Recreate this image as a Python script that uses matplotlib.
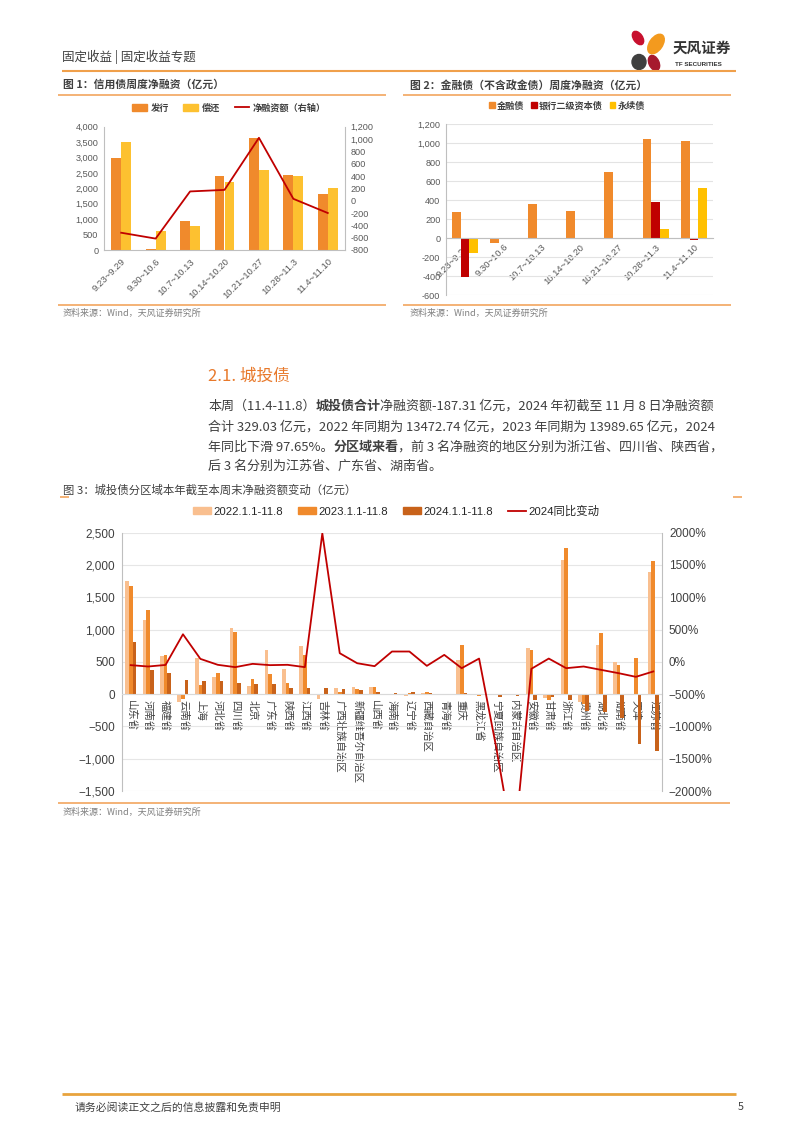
import matplotlib
matplotlib.use('Agg')
import matplotlib.pyplot as plt
from matplotlib.patches import Patch, Ellipse
from matplotlib.lines import Line2D
from matplotlib.ticker import FuncFormatter
import numpy as np

plt.rcParams['font.family'] = ['Liberation Sans', 'Noto Sans CJK SC']
CJK = ['Noto Sans CJK SC', 'Liberation Sans']

W, H = 802, 1133

# ---------------- data ----------------
weeks = ['9.23~9.29', '9.30~10.6', '10.7~10.13', '10.14~10.20',
         '10.21~10.27', '10.28~11.3', '11.4~11.10']
issue = [3000, 30, 930, 2390, 3620, 2430, 1810]
repay = [3510, 630, 780, 2220, 2600, 2400, 2010]
net_fin = [-520, -615, 150, 175, 1020, 30, -200]

fin_bond = [280, -45, 365, 285, 700, 1050, 1020]
tier2 = [-405, 0, 0, 0, 8, 385, -20]
perp = [-160, 0, 0, 0, 0, 95, 525]

regions = ['山东省', '河南省', '福建省', '云南省', '上海', '河北省', '四川省', '北京',
           '广东省', '陕西省', '江西省', '吉林省', '广西壮族自治区', '新疆维吾尔自治区',
           '山西省', '海南省', '辽宁省', '西藏自治区', '青海省', '重庆', '黑龙江省',
           '宁夏回族自治区', '内蒙古自治区', '安徽省', '甘肃省', '浙江省', '贵州省',
           '湖北省', '湖南省', '天津', '江苏省']
v2022 = [1750, 1155, 588, -120, 566, 268, 1025, 120, 685, 386, 742, -80, 93, 110,
         108, 5, -35, 20, -15, 536, -10, 8, -15, 711, -65, 2072, -120, 762, 493, 0, 1896]
v2023 = [1680, 1300, 603, -70, 140, 330, 958, 237, 310, 175, 605, -5, 33, 78,
         118, 8, 10, 26, 3, 762, -30, 4, 1, 690, -90, 2258, -155, 943, 457, 559, 2066]
v2024 = [805, 372, 332, 225, 210, 196, 166, 155, 150, 93, 95, 90, 77, 60,
         36, 21, 26, 10, 6, 15, -15, -50, -28, -93, -45, -95, -268, -273, -376, -768, -881]
yoy = [-51, -72, -48, 427, 46, -46, -82, -31, -51, -46, -82, 1990, 134, -21,
       -67, 160, 160, -62, 108, -98, 51, -1350, -2900, -108, 51, -98, -72, -124, -175, -232, -149]

# ---------------- colours ----------------
C_ORANGE = '#F08A2C'
C_YELLOW = '#FDC130'
C_RED = '#C00000'
C_LIGHT = '#F9BF8F'
C_DARK = '#C8621A'
C_LINE = '#F2A55F'
C_AX = '#BFBFBF'
C_TICK = '#595959'

fig = plt.figure(figsize=(W / 100, H / 100), dpi=100)
bg = fig.add_axes([0, 0, 1, 1], zorder=0)
bg.set_xlim(0, W)
bg.set_ylim(H, 0)
bg.axis('off')


def rect(x0, y0, x1, y1):
    return [x0 / W, 1 - y1 / H, (x1 - x0) / W, (y1 - y0) / H]


def hline(x0, x1, y, color=C_LINE, lw=1.2):
    bg.plot([x0, x1], [y, y], color=color, lw=lw, solid_capstyle='butt')


def txt(x, y, s, size, color='#333333', weight='normal', ha='left', va='center', family=CJK):
    return bg.text(x, y, s, fontsize=size, color=color, fontweight=weight,
                   ha=ha, va=va, family=family)


# ---------------- header / footer ----------------
txt(62, 57, '固定收益 | 固定收益专题', 9, '#404040')
hline(62, 736, 71, '#F0A04B', 1.5)
bg.add_patch(Ellipse((638, 38), 9, 15, angle=-35, color='#C8102E'))
bg.add_patch(Ellipse((656, 44), 13, 22, angle=35, color='#F39A1E'))
bg.add_patch(Ellipse((639, 62), 14, 15, angle=0, color='#3F3F3F'))
bg.add_patch(Ellipse((654, 63), 10, 16, angle=-25, color='#A6192E'))
txt(673, 48, '天风证券', 10.5, '#333333', 'bold')
txt(675, 64, 'TF SECURITIES', 4.5, '#333333', 'bold', family=['Liberation Sans'])

hline(62, 736, 1094, '#E8A33D', 2)
txt(75, 1107, '请务必阅读正文之后的信息披露和免责申明', 7.8, '#404040')
txt(744, 1107, '5', 7.8, '#404040', ha='right')

# ---------------- chart titles / sources ----------------
txt(63, 85, '图 1：信用债周度净融资（亿元）', 7.8, '#404040', 'bold')
hline(58, 386, 95)
txt(410, 85, '图 2：金融债（不含政金债）周度净融资（亿元）', 7.8, '#404040', 'bold')
hline(403, 731, 95)
hline(58, 386, 305)
txt(63, 313, '资料来源：Wind，天风证券研究所', 6.5, '#808080')
hline(403, 731, 305)
txt(410, 313, '资料来源：Wind，天风证券研究所', 6.5, '#808080')

# ---------------- section text ----------------
txt(208, 376, '2.1. 城投债', 12, '#E8792B')

para = [
    [('本周（11.4-11.8）', 'normal'), ('城投债合计', 'bold'),
     ('净融资额-187.31 亿元，2024 年初截至 11 月 8 日净融资额', 'normal')],
    [('合计 329.03 亿元，2022 年同期为 13472.74 亿元，2023 年同期为 13989.65 亿元，2024', 'normal')],
    [('年同比下滑 97.65%。', 'normal'), ('分区域来看', 'bold'),
     ('，前 3 名净融资的地区分别为浙江省、四川省、陕西省，', 'normal')],
    [('后 3 名分别为江苏省、广东省、湖南省。', 'normal')],
]
para_y = [406, 427, 447, 466]
renderer = fig.canvas.get_renderer()
for segs, y in zip(para, para_y):
    x = 208
    for s, wt in segs:
        t = txt(x, y, s, 9.4, '#404040', wt)
        x += t.get_window_extent(renderer).width

txt(63, 490, '图 3：城投债分区域本年截至本周末净融资额变动（亿元）', 8.2, '#404040')
hline(60, 69, 497)
hline(733, 742, 497)
hline(58, 730, 803)
txt(63, 812, '资料来源：Wind，天风证券研究所', 6.5, '#808080')


def style_ax(ax, left=True, right=False, bottom=True):
    for side in ['top', 'left', 'right', 'bottom']:
        ax.spines[side].set_visible(False)
    if left:
        ax.spines['left'].set_visible(True)
        ax.spines['left'].set_color(C_AX)
    if right:
        ax.spines['right'].set_visible(True)
        ax.spines['right'].set_color(C_AX)
    if bottom:
        ax.spines['bottom'].set_visible(True)
        ax.spines['bottom'].set_color(C_AX)
    ax.tick_params(length=0, colors=C_TICK)


comma = FuncFormatter(lambda v, p: f'{int(v):,}')

# ---------------- chart 1 ----------------
ax1 = fig.add_axes(rect(104, 126.7, 345, 250))
x = np.arange(len(weeks))
ax1.bar(x - 0.145, issue, 0.29, color=C_ORANGE)
ax1.bar(x + 0.145, repay, 0.29, color=C_YELLOW)
ax1.set_xlim(-0.5, len(weeks) - 0.5)
ax1.set_ylim(0, 4000)
ax1.set_yticks(range(0, 4001, 500))
ax1.yaxis.set_major_formatter(comma)
style_ax(ax1)
ax1.tick_params(axis='y', labelsize=6.6, pad=4)
ax1.set_xticks(x)
ax1.set_xticklabels(weeks, rotation=45, ha='right', rotation_mode='anchor', fontsize=6.8)
ax1.tick_params(axis='x', pad=5)
ax1t = ax1.twinx()
ax1t.plot(x, net_fin, color=C_RED, lw=1.3)
ax1t.set_ylim(-800, 1200)
ax1t.set_yticks(range(-800, 1201, 200))
ax1t.yaxis.set_major_formatter(comma)
style_ax(ax1t, left=False, right=True, bottom=False)
ax1t.tick_params(axis='y', labelsize=6.6, pad=4)

fig.legend(handles=[Patch(color=C_ORANGE, label='发行'), Patch(color=C_YELLOW, label='偿还'),
                    Line2D([], [], color=C_RED, lw=1.3, label='净融资额（右轴）')],
           loc='center', bbox_to_anchor=(229 / W, 1 - 108 / H), ncol=3, frameon=False,
           prop={'family': CJK, 'size': 6.6, 'weight': 'bold'}, handlelength=1.6,
           handleheight=0.7, handletextpad=0.4, columnspacing=1.6, labelcolor='#404040')

# ---------------- chart 2 ----------------
ax2 = fig.add_axes(rect(446, 124.3, 713, 295.3))
bw = 0.23
ax2.bar(x - bw, fin_bond, bw, color=C_ORANGE, zorder=2)
ax2.bar(x, tier2, bw, color=C_RED, zorder=2)
ax2.bar(x + bw, perp, bw, color='#FFC000', zorder=2)
ax2.set_xlim(-0.5, len(weeks) - 0.5)
ax2.set_ylim(-600, 1200)
ax2.set_yticks(range(-600, 1201, 200))
ax2.yaxis.set_major_formatter(comma)
ax2.grid(axis='y', color='#E3E3E3', lw=0.8, zorder=0)
style_ax(ax2)
ax2.spines['bottom'].set_position(('data', 0))
ax2.tick_params(axis='y', labelsize=6.6, pad=4)
ax2.set_xticks(x)
ax2.set_xticklabels(weeks, rotation=45, ha='right', rotation_mode='anchor', fontsize=6.8)
ax2.tick_params(axis='x', pad=3)

fig.legend(handles=[Patch(color=C_ORANGE, label='金融债'), Patch(color=C_RED, label='银行二级资本债'),
                    Patch(color='#FFC000', label='永续债')],
           loc='center', bbox_to_anchor=(567 / W, 1 - 106 / H), ncol=3, frameon=False,
           prop={'family': CJK, 'size': 6.6, 'weight': 'bold'}, handlelength=0.6,
           handleheight=0.6, handletextpad=0.2, columnspacing=0.8, labelcolor='#404040')

# ---------------- chart 3 ----------------
ax3 = fig.add_axes(rect(122, 532.7, 662, 791))
xr = np.arange(len(regions))
w3 = 0.21
ax3.bar(xr - w3, v2022, w3, color=C_LIGHT, zorder=2)
ax3.bar(xr, v2023, w3, color=C_ORANGE, zorder=2)
ax3.bar(xr + w3, v2024, w3, color=C_DARK, zorder=2)
ax3.set_xlim(-0.5, len(regions) - 0.5)
ax3.set_ylim(-1500, 2500)
ax3.set_yticks(range(-1500, 2501, 500))
ax3.yaxis.set_major_formatter(FuncFormatter(lambda v, p: f'{int(v):,}'.replace('-', '\u2212')))
ax3.grid(axis='y', color='#E6E6E6', lw=0.8, zorder=0)
style_ax(ax3)
ax3.spines['bottom'].set_position(('data', 0))
ax3.spines['bottom'].set_color('#D9D9D9')
ax3.tick_params(axis='y', labelsize=8.5, pad=5, colors='#404040')
ax3.set_xticks(xr)
ax3.set_xticklabels(regions, rotation=270, ha='center', va='top', fontsize=7.5,
                    family=CJK, color='#404040')
ax3.tick_params(axis='x', pad=4)

ax3t = ax3.twinx()
ax3t.plot(xr, yoy, color=C_RED, lw=1.3)
ax3t.set_ylim(-2000, 2000)
ax3t.set_yticks(range(-2000, 2001, 500))
ax3t.yaxis.set_major_formatter(FuncFormatter(lambda v, p: f'{int(v)}%'.replace('-', '\u2212')))
style_ax(ax3t, left=False, right=True, bottom=False)
ax3t.tick_params(axis='y', labelsize=8.5, pad=5, colors='#404040')

fig.legend(handles=[Patch(color=C_LIGHT, label='2022.1.1-11.8'),
                    Patch(color=C_ORANGE, label='2023.1.1-11.8'),
                    Patch(color=C_DARK, label='2024.1.1-11.8'),
                    Line2D([], [], color=C_RED, lw=1.3, label='2024同比变动')],
           loc='center', bbox_to_anchor=(396 / W, 1 - 511 / H), ncol=4, frameon=False,
           prop={'family': ['Liberation Sans', 'Noto Sans CJK SC'], 'size': 8.2},
           handlelength=1.6, handleheight=0.5, handletextpad=0.2, columnspacing=1.3,
           labelcolor='#262626')

fig.savefig('out.png', dpi=100)
